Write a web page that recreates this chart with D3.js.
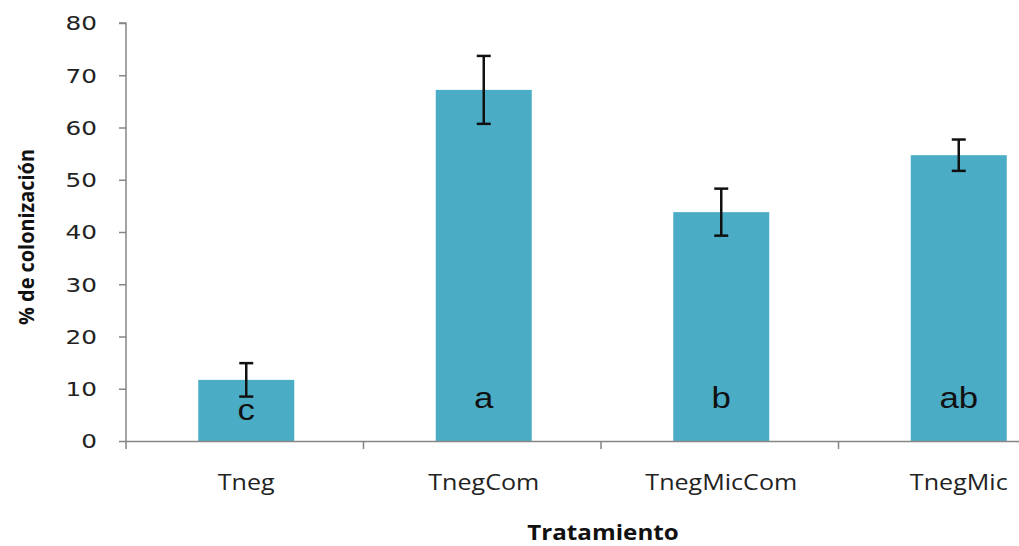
<!DOCTYPE html>
<html><head><meta charset="utf-8">
<script src="https://cdn.jsdelivr.net/npm/d3@7"></script>
<style>body{margin:0;background:#fff}svg{display:block}</style>
</head><body>
<svg id="c" width="1019" height="546"></svg>
<script>
const categories = ["Tneg", "TnegCom", "TnegMicCom", "TnegMic"];
const values = [11.7, 67.2, 43.8, 54.7];
const errors = [3.2, 6.5, 4.5, 3.0];
const letters = ["c", "a", "b", "ab"];
const yTicks = [0, 10, 20, 30, 40, 50, 60, 70, 80];

(function () {
const svg = d3.select("#c");
const mLeft = 126, mRight = 1076, mTop = 23, mBottom = 441;
const xb = d3.scaleBand().domain(categories).range([mLeft + 1.5, mRight + 1.5]);
const y = d3.scaleLinear().domain([0, 80]).range([mBottom, mTop]);
const axisColor = "#868686";
const cxOf = d => xb(d) + xb.bandwidth() / 2;

// stretch text horizontally, keeping alignment ("start", "middle", "end") around its x
function stretch(sel, factor, align) {
  sel.each(function () {
    const t = d3.select(this);
    const L = this.getComputedTextLength() * factor;
    const x0 = +t.attr("x") || 0;
    const nx = align === "middle" ? x0 - L / 2 : align === "end" ? x0 - L : x0;
    t.attr("text-anchor", "start").attr("x", nx)
     .attr("textLength", L).attr("lengthAdjust", "spacingAndGlyphs");
  });
}

// bars
svg.selectAll("rect.bar").data(categories).join("rect")
  .attr("x", d => cxOf(d) - 48)
  .attr("width", 96)
  .attr("y", (d, i) => y(values[i]))
  .attr("height", (d, i) => mBottom - y(values[i]))
  .attr("fill", "#4bacc6");

// error bars
const eg = svg.append("g").attr("stroke", "#111").attr("stroke-width", 2.5);
categories.forEach((c, i) => {
  const cx = cxOf(c);
  eg.append("line").attr("x1", cx).attr("x2", cx).attr("y1", y(values[i] + errors[i])).attr("y2", y(values[i] - errors[i]));
  eg.append("line").attr("x1", cx - 7).attr("x2", cx + 7).attr("y1", y(values[i] + errors[i])).attr("y2", y(values[i] + errors[i]));
  eg.append("line").attr("x1", cx - 7).attr("x2", cx + 7).attr("y1", y(values[i] - errors[i])).attr("y2", y(values[i] - errors[i]));
});

// letters
svg.selectAll("text.let").data(categories).join("text")
  .attr("x", d => cxOf(d))
  .attr("y", (d, i) => i === 0 ? 420 : 408)
  .attr("font-family", "Liberation Sans, Arial, sans-serif")
  .attr("font-size", 29)
  .attr("fill", "#111")
  .text((d, i) => letters[i])
  .call(stretch, 1.2, "middle");

// y axis
const ya = svg.append("g").attr("transform", `translate(${mLeft},0)`)
  .call(d3.axisLeft(y).tickValues(yTicks).tickSize(7).tickPadding(20).tickFormat(d3.format("d")));
ya.select(".domain").attr("stroke", axisColor).attr("stroke-width", 1.5).attr("d", `M-7,${mTop}H0V${mBottom + 8}`);
ya.selectAll(".tick line").attr("stroke", axisColor).attr("stroke-width", 1.5);
ya.selectAll(".tick text").attr("font-family", "DejaVu Sans, Verdana, sans-serif").attr("font-size", 19).attr("fill", "#222")
  .attr("x", -29).attr("dy", "0.36em")
  .call(stretch, 1.3, "end");

// x axis
const xa = svg.append("g").attr("transform", `translate(0,${mBottom})`)
  .call(d3.axisBottom(xb).tickSize(0).tickPadding(0));
xa.select(".domain").attr("stroke", axisColor).attr("stroke-width", 1.5).attr("d", `M${mLeft},0.5H1019`);
xa.selectAll(".tick text").attr("font-family", "Open Sans, sans-serif").attr("font-size", 22).attr("fill", "#222")
  .attr("dy", null).attr("y", 49).attr("x", 0)
  .call(stretch, 1.14, "middle");
svg.append("g").selectAll("line").data(categories.slice(1)).join("line")
  .attr("x1", d => xb(d) - 1.5).attr("x2", d => xb(d) - 1.5)
  .attr("y1", mBottom).attr("y2", mBottom + 8)
  .attr("stroke", axisColor).attr("stroke-width", 1.5);

// titles
svg.append("text").attr("x", 603).attr("y", 540)
  .attr("font-family", "Open Sans, sans-serif").attr("font-weight", "bold").attr("font-size", 22).attr("fill", "#111")
  .text("Tratamiento")
  .call(stretch, 1.1, "middle");
svg.append("text").attr("transform", "translate(34,237) rotate(-90)").attr("text-anchor", "middle")
  .attr("font-family", "Open Sans, sans-serif").attr("font-weight", "bold").attr("font-size", 22).attr("fill", "#111")
  .attr("textLength", 176).attr("lengthAdjust", "spacingAndGlyphs")
  .text("% de colonización");
})();
</script>
</body></html>
